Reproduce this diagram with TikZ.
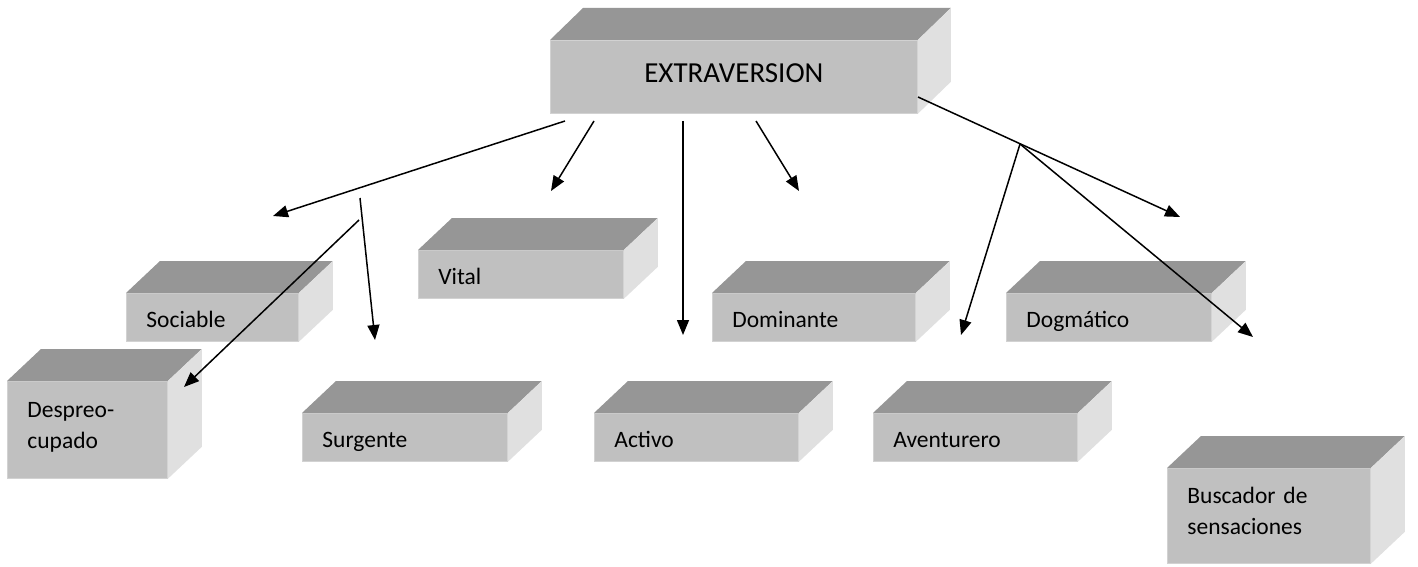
\documentclass[tikz,border=0pt]{standalone}
\usepackage{fontspec}
\setmainfont{Carlito}
\usetikzlibrary{arrows.meta}
\definecolor{frontc}{RGB}{192,192,192}
\definecolor{topc}{RGB}{150,150,150}
\definecolor{sidec}{RGB}{224,224,224}
\definecolor{edgec}{RGB}{210,210,210}
\newcommand{\onestrut}{\rule[-4pt]{0pt}{28pt}}
\newcommand{\twostrut}{\rule[-10pt]{0pt}{26pt}}
\newcommand{\bigstrut}{\rule[-11pt]{0pt}{33pt}}
\tikzset{
  frontface/.style={fill=frontc, draw=edgec, line width=0.8pt, inner xsep=20pt, inner ysep=0pt,
    align=left, font=\fontsize{23.5}{31}\selectfont},
  topface/.style={fill=topc},
  sideface/.style={fill=sidec},
  arr/.style={draw, line width=1.5pt, -{Triangle[length=15pt,width=12pt]}},
}
% name, left x, top y, width, height, text
\newcommand{\cuboid}[6]{%
  \pgfmathsetmacro{\cubtw}{#4-40}%
  \node[frontface, minimum width=#4pt, minimum height=#5pt, text width=\cubtw pt, anchor=north west] (#1) at (#2,#3) {#6};
  \fill[topface] (#1.north west) -- ([shift={(34,-32)}]#1.north west) -- ([shift={(34,-32)}]#1.north east) -- (#1.north east) -- cycle;
  \fill[sideface] (#1.north east) -- ([shift={(34,-32)}]#1.north east) -- ([shift={(34,-32)}]#1.south east) -- (#1.south east) -- cycle;
}
\begin{document}
\begin{tikzpicture}[x=1pt,y=-1pt]
\fill[white] (0,0) rectangle (1418,567);
\useasboundingbox (0,0) rectangle (1418,567);

% main box
\node[frontface, align=center, minimum width=367pt, minimum height=73pt, text width=327pt,
  font=\fontsize{29}{35}\selectfont, anchor=north west] (extra) at (550,40) {\bigstrut EXTRAVERSION};
\fill[topface] (extra.north west) -- ([shift={(33,-32)}]extra.north west) -- ([shift={(33,-32)}]extra.north east) -- (extra.north east) -- cycle;
\fill[sideface] (extra.north east) -- ([shift={(33,-32)}]extra.north east) -- ([shift={(33,-32)}]extra.south east) -- (extra.south east) -- cycle;

\cuboid{sociable}{126}{293}{172}{48}{\onestrut Sociable}
\cuboid{despreo}{7}{381}{160}{97}{\twostrut Despreo-\\\twostrut cupado}
\cuboid{vital}{418}{250}{205}{48}{\onestrut Vital}
\cuboid{dominante}{712}{293}{203}{48}{\onestrut Dominante}
\cuboid{dogmatico}{1006}{293}{205}{48}{\onestrut Dogmático}
\cuboid{surgente}{302}{413}{205}{48}{\onestrut Surgente}
\cuboid{activo}{594}{413}{204}{48}{\onestrut Activo}
\cuboid{aventurero}{873}{413}{204}{48}{\onestrut Aventurero}
\cuboid{buscador}{1167}{468}{203}{95}{\twostrut Buscador de\\\twostrut sensaciones}

% connector points
\coordinate (s1) at (565,121);
\coordinate (t1) at (273,216);
\coordinate (b1) at (360,198);
\coordinate (t2) at (375,340);
\coordinate (b2) at (359,220);
\coordinate (t3) at (184,387);
\coordinate (s4) at (594,121);
\coordinate (t4) at (551,191);
\coordinate (s5) at (683,121);
\coordinate (t5) at (683,335);
\coordinate (s6) at (756,121);
\coordinate (t6) at (799,191);
\coordinate (s7) at (918,97);
\coordinate (t7) at (1180,217);
\coordinate (k) at (1020,144);
\coordinate (t8) at (961,335);
\coordinate (t9) at (1253,337);

\draw[arr] (s1) -- (t1);
\draw[arr] (b1) -- (t2);
\draw[arr] (b2) -- (t3);
\draw[arr] (s4) -- (t4);
\draw[arr] (s5) -- (t5);
\draw[arr] (s6) -- (t6);
\draw[arr] (s7) -- (t7);
\draw[arr] (k) -- (t8);
\draw[arr] (k) -- (t9);
\end{tikzpicture}
\end{document}
